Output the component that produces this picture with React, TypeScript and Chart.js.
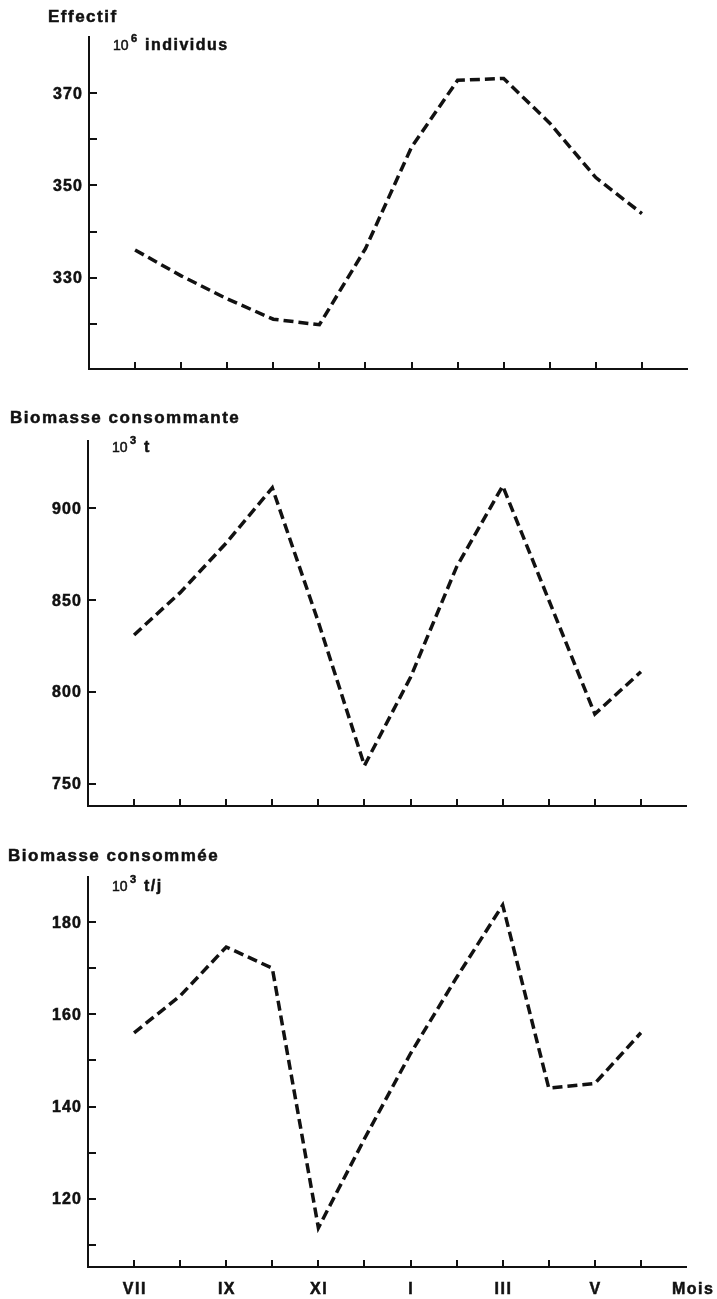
import { useEffect, useRef } from "react";
import { Chart, registerables } from "chart.js";

Chart.register(...registerables);

// ---------- data ----------
const months = ["VII", "VIII", "IX", "X", "XI", "XII", "I", "II", "III", "IV", "V", "VI"];
const shownMonthLabels = ["VII", "", "IX", "", "XI", "", "I", "", "III", "", "V", ""];
const xAxisTitle = "Mois";

const effectif = [336, 330.4, 325.4, 321, 319.8, 336.3, 358.3, 372.8, 373.2, 363.5, 351.7, 343.9];
const effectifTicks = [320, 330, 340, 350, 360, 370];
const effectifTickLabels = [330, 350, 370];

const biomasseConsommante = [831, 854, 881, 911, 838, 760, 808, 868, 912, 850, 788, 811];
const consommanteTicks = [750, 800, 850, 900];
const consommanteTickLabels = [750, 800, 850, 900];

const biomasseConsommee = [156, 164, 174.6, 170, 113.7, 133, 151.5, 168, 183.7, 144, 145, 156];
const consommeeTicks = [110, 120, 130, 140, 150, 160, 170, 180];
const consommeeTickLabels = [120, 140, 160, 180];

// ---------- panel layout ----------
type Panel = {
  title: string;
  titleX: number;
  titleY: number;
  unitBase: string;
  unitExp: string;
  unitRest: string;
  unitY: number;
  values: number[];
  yMin: number;
  yMax: number;
  ticks: number[];
  tickLabels: number[];
  showMonths: boolean;
  top: number;
  height: number;
  padding: { left: number; right: number; top: number; bottom: number };
};

const W = 717;

const panels: Panel[] = [
  {
    title: "Effectif",
    titleX: 48,
    titleY: 22,
    unitBase: "10",
    unitExp: "6",
    unitRest: "individus",
    unitY: 50,
    values: effectif,
    yMin: 310.2,
    yMax: 382.4,
    ticks: effectifTicks,
    tickLabels: effectifTickLabels,
    showMonths: false,
    top: 0,
    height: 380,
    padding: { left: 89, right: W - 688, top: 36, bottom: 380 - 369 },
  },
  {
    title: "Biomasse consommante",
    titleX: 10,
    titleY: 43,
    unitBase: "10",
    unitExp: "3",
    unitRest: "t",
    unitY: 72,
    values: biomasseConsommante,
    yMin: 738.0,
    yMax: 937.0,
    ticks: consommanteTicks,
    tickLabels: consommanteTickLabels,
    showMonths: false,
    top: 380,
    height: 440,
    padding: { left: 88, right: W - 687, top: 60, bottom: 440 - 426 },
  },
  {
    title: "Biomasse consommée",
    titleX: 8,
    titleY: 41,
    unitBase: "10",
    unitExp: "3",
    unitRest: "t/j",
    unitY: 71,
    values: biomasseConsommee,
    yMin: 105.2,
    yMax: 190,
    ticks: consommeeTicks,
    tickLabels: consommeeTickLabels,
    showMonths: true,
    top: 820,
    height: 479,
    padding: { left: 88, right: W - 687, top: 56, bottom: 479 - 447 },
  },
];

const FONT = '"Liberation Sans", Arial, Helvetica, sans-serif';

function drawSpaced(
  ctx: CanvasRenderingContext2D,
  text: string,
  x: number,
  y: number,
  font: string,
  spacing: number,
  align: "left" | "right" | "center",
  heavy = true
) {
  ctx.save();
  ctx.font = font;
  (ctx as any).letterSpacing = spacing + "px";
  ctx.textAlign = "left";
  ctx.textBaseline = "alphabetic";
  const w = ctx.measureText(text).width - spacing;
  let sx = x;
  if (align === "right") sx = x - w;
  else if (align === "center") sx = x - w / 2;
  ctx.fillStyle = "#111";
  ctx.fillText(text, sx, y);
  if (heavy) {
    ctx.strokeStyle = "#111";
    ctx.lineWidth = 0.5;
    ctx.strokeText(text, sx, y);
  }
  ctx.restore();
}

function makeAxisPlugin(p: Panel) {
  return {
    id: "customAxes",
    afterDraw(chart: any) {
      const ctx: CanvasRenderingContext2D = chart.ctx;
      const { left, right, top, bottom } = chart.chartArea;
      const xs = chart.scales.x;
      const ys = chart.scales.y;
      ctx.save();
      ctx.strokeStyle = "#111";
      ctx.lineWidth = 2;
      ctx.lineCap = "butt";
      // axes
      ctx.beginPath();
      ctx.moveTo(left, top);
      ctx.lineTo(left, bottom);
      ctx.lineTo(right, bottom);
      ctx.stroke();
      // x ticks (inward)
      months.forEach((_, i) => {
        const px = Math.round(xs.getPixelForValue(i));
        ctx.beginPath();
        ctx.moveTo(px, bottom);
        ctx.lineTo(px, bottom - 7);
        ctx.stroke();
      });
      // y ticks (inward)
      p.ticks.forEach((t) => {
        const py = Math.round(ys.getPixelForValue(t));
        ctx.beginPath();
        ctx.moveTo(left, py);
        ctx.lineTo(left + 8, py);
        ctx.stroke();
      });
      ctx.restore();

      // y tick labels
      p.tickLabels.forEach((t) => {
        const py = ys.getPixelForValue(t);
        drawSpaced(ctx, String(t), left - 7, py + 5.5, `bold 16px ${FONT}`, 1.2, "right");
      });

      // month labels
      if (p.showMonths) {
        shownMonthLabels.forEach((m, i) => {
          if (!m) return;
          const px = xs.getPixelForValue(i);
          drawSpaced(ctx, m, px, bottom + 27, `bold 16px ${FONT}`, 1.5, "center");
        });
        drawSpaced(ctx, xAxisTitle, 672, bottom + 27, `bold 16px ${FONT}`, 1.5, "left");
      }

      // title
      drawSpaced(ctx, p.title, p.titleX, p.titleY, `bold 17px ${FONT}`, 1.5, "left");

      // unit
      const ux = left + 24;
      drawSpaced(ctx, p.unitBase, ux, p.unitY, `14px ${FONT}`, 0, "left");
      drawSpaced(ctx, p.unitExp, ux + 18, p.unitY - 8, `bold 11px ${FONT}`, 0, "left");
      drawSpaced(ctx, p.unitRest, ux + 32, p.unitY, `bold 16px ${FONT}`, 1.5, "left");
    },
  };
}

function PanelChart({ p }: { p: Panel }) {
  const ref = useRef<HTMLCanvasElement | null>(null);
  useEffect(() => {
    if (!ref.current) return;
    const chart = new Chart(ref.current, {
      type: "line",
      data: {
        datasets: [
          {
            data: p.values.map((v, i) => ({ x: i, y: v })),
            borderColor: "#111",
            borderWidth: 3.5,
            borderDash: [10, 5],
            borderCapStyle: "butt",
            borderJoinStyle: "miter",
            pointRadius: 0,
            tension: 0,
            fill: false,
          },
        ],
      },
      options: {
        animation: false,
        responsive: false,
        maintainAspectRatio: false,
        devicePixelRatio: 1,
        layout: { padding: p.padding },
        plugins: { legend: { display: false }, tooltip: { enabled: false }, title: { display: false } },
        scales: {
          x: { type: "linear", min: -1, max: 12, display: false },
          y: { type: "linear", min: p.yMin, max: p.yMax, display: false },
        },
      },
      plugins: [makeAxisPlugin(p)],
    } as any);
    return () => chart.destroy();
  }, [p]);
  return (
    <canvas
      ref={ref}
      width={W}
      height={p.height}
      style={{ position: "absolute", left: 0, top: p.top, width: W, height: p.height, display: "block" }}
    />
  );
}

export default function App() {
  return (
    <div style={{ position: "absolute", left: 0, top: 0, width: W, height: 1299, background: "#fff" }}>
      {panels.map((p, i) => (
        <PanelChart key={i} p={p} />
      ))}
    </div>
  );
}
